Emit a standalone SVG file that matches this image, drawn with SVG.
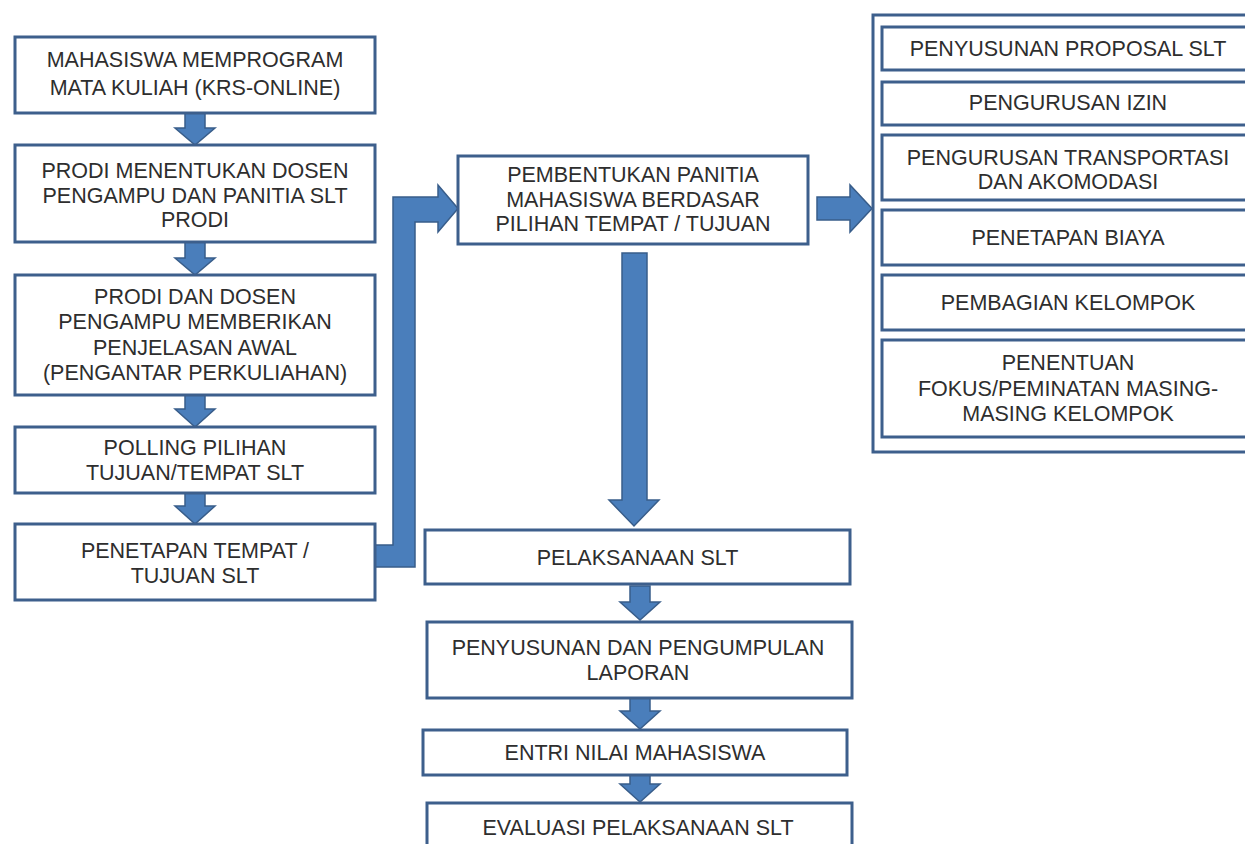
<svg xmlns="http://www.w3.org/2000/svg" width="1245" height="844" viewBox="0 0 1245 844">
<style>
.box{fill:#ffffff;stroke:#3d5f8c;stroke-width:3}
.arr{fill:#4a7ebb;stroke:#385d8a;stroke-width:1.5;stroke-linejoin:miter}
text{font-family:"Liberation Sans",Arial,sans-serif;font-size:21.5px;fill:#2e2e2e;text-anchor:middle}
</style>
<rect width="1245" height="844" fill="#ffffff"/>
<g id="connectors">
<path class="arr" d="M185,113 H205 V128 H215 L195,145 L175,128 H185 Z"/>
<path class="arr" d="M185,242 H205 V258 H215 L195,275 L175,258 H185 Z"/>
<path class="arr" d="M185,395 H205 V409 H215 L195,427 L175,409 H185 Z"/>
<path class="arr" d="M185,493 H205 V506 H215 L195,524 L175,506 H185 Z"/>
<path class="arr" d="M375,545 H393 V197 H438 V185 L458,208.5 L438,232 V222 H415 V567 H375 Z"/>
<path class="arr" d="M817,197 H850 V185 L872,208.5 L850,232 V220 H817 Z"/>
<path class="arr" d="M622,253 H647 V500 H659 L634,526 L609,500 H622 Z"/>
<path class="arr" d="M630,586 H650 V602 H660 L640,620 L620,602 H630 Z"/>
<path class="arr" d="M630,698 H650 V711 H660 L640,729 L620,711 H630 Z"/>
<path class="arr" d="M630,775 H650 V784 H660 L640,802 L620,784 H630 Z"/>
</g>
<g id="n1"><rect class="box" x="15" y="37" width="360" height="76"/><text x="195" y="67">MAHASISWA MEMPROGRAM</text><text x="195" y="95">MATA KULIAH (KRS-ONLINE)</text></g>
<g id="n2"><rect class="box" x="15" y="145" width="360" height="97"/><text x="195" y="178">PRODI MENENTUKAN DOSEN</text><text x="195" y="202.5">PENGAMPU DAN PANITIA SLT</text><text x="195" y="227">PRODI</text></g>
<g id="n3"><rect class="box" x="15" y="275" width="360" height="120"/><text x="195" y="304">PRODI DAN DOSEN</text><text x="195" y="329">PENGAMPU MEMBERIKAN</text><text x="195" y="354.5">PENJELASAN AWAL</text><text x="195" y="379.5">(PENGANTAR PERKULIAHAN)</text></g>
<g id="n4"><rect class="box" x="15" y="427" width="360" height="66"/><text x="195" y="455">POLLING PILIHAN</text><text x="195" y="480">TUJUAN/TEMPAT SLT</text></g>
<g id="n5"><rect class="box" x="15" y="524" width="360" height="76"/><text x="195" y="558">PENETAPAN TEMPAT /</text><text x="195" y="583">TUJUAN SLT</text></g>
<g id="n6"><rect class="box" x="458" y="156" width="350" height="88"/><text x="633" y="181.5">PEMBENTUKAN PANITIA</text><text x="633" y="206.5">MAHASISWA BERDASAR</text><text x="633" y="231">PILIHAN TEMPAT / TUJUAN</text></g>
<g id="n7"><rect class="box" x="873" y="15" width="392" height="437"/></g>
<g id="n8"><rect class="box" x="882" y="27" width="380" height="43"/><text x="1068" y="56">PENYUSUNAN PROPOSAL SLT</text></g>
<g id="n9"><rect class="box" x="882" y="82" width="380" height="43"/><text x="1068" y="110">PENGURUSAN IZIN</text></g>
<g id="n10"><rect class="box" x="882" y="135" width="380" height="65"/><text x="1068" y="165">PENGURUSAN TRANSPORTASI</text><text x="1068" y="189">DAN AKOMODASI</text></g>
<g id="n11"><rect class="box" x="882" y="210" width="380" height="55"/><text x="1068" y="245">PENETAPAN BIAYA</text></g>
<g id="n12"><rect class="box" x="882" y="275" width="380" height="55"/><text x="1068" y="310">PEMBAGIAN KELOMPOK</text></g>
<g id="n13"><rect class="box" x="882" y="340" width="380" height="97"/><text x="1068" y="370">PENENTUAN</text><text x="1068" y="396">FOKUS/PEMINATAN MASING-</text><text x="1068" y="420.5">MASING KELOMPOK</text></g>
<g id="n14"><rect class="box" x="425" y="530" width="425" height="54"/><text x="637.5" y="565">PELAKSANAAN SLT</text></g>
<g id="n15"><rect class="box" x="427" y="622" width="425" height="76"/><text x="638" y="655">PENYUSUNAN DAN PENGUMPULAN</text><text x="638" y="680">LAPORAN</text></g>
<g id="n16"><rect class="box" x="423" y="730" width="424" height="45"/><text x="635" y="760">ENTRI NILAI MAHASISWA</text></g>
<g id="n17"><rect class="box" x="427" y="803" width="425" height="60"/><text x="638" y="835">EVALUASI PELAKSANAAN SLT</text></g>
</svg>
